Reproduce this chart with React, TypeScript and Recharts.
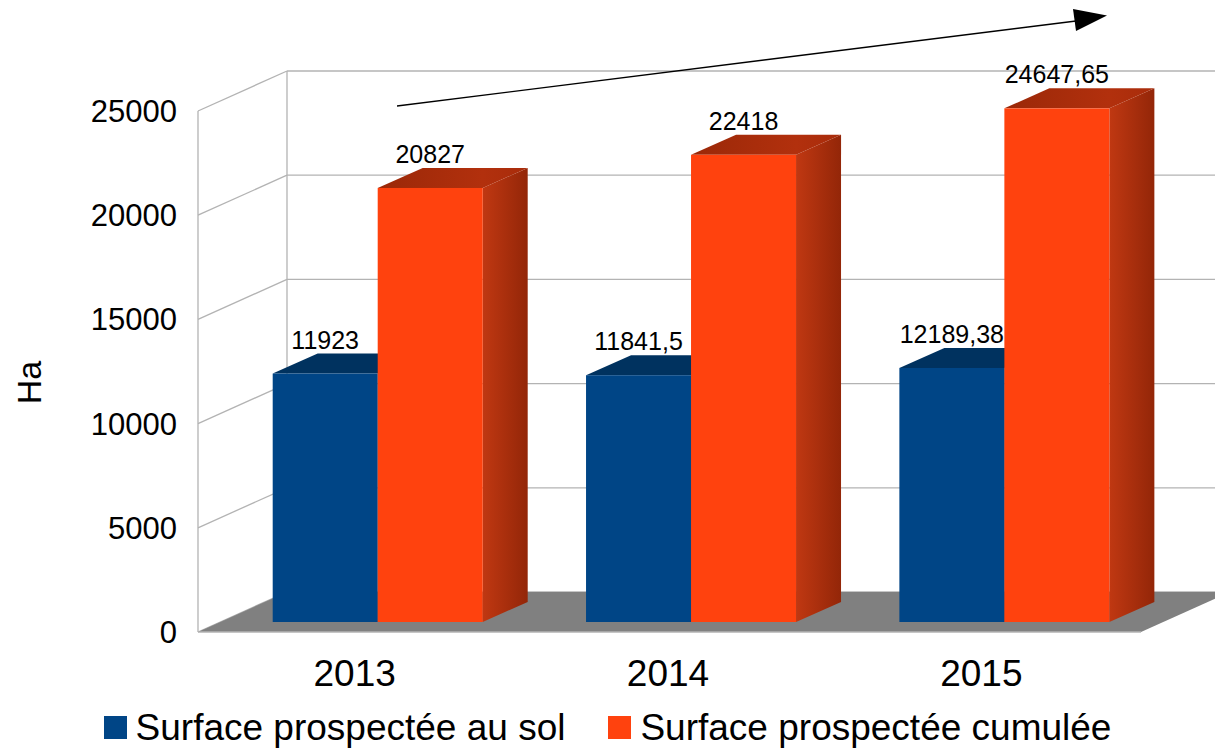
// Surface prospectée — histogramme 3D (Recharts)

import { BarChart, Bar, XAxis, YAxis, CartesianGrid, Legend, LabelList } from "recharts";

const years = ["2013", "2014", "2015"];
const surfaceSol = [11923, 11841.5, 12189.38];
const surfaceCumulee = [20827, 22418, 24647.65];
const yTicks = [0, 5000, 10000, 15000, 20000, 25000];

const NAME_SOL = "Surface prospectée au sol";
const NAME_CUMULEE = "Surface prospectée cumulée";

const data = years.map((year, i) => ({
  year,
  sol: surfaceSol[i],
  cumulee: surfaceCumulee[i],
}));

// géométrie de la perspective
const WALL_DX = 89;
const WALL_DY = 40;
const BAR_DX = 23; // décalage de la face avant des barres (milieu du sol)
const BAR_DY = 10;
const DEPTH_DX = 45; // profondeur des barres
const DEPTH_DY = 20;
const GRID = "#b3b3b3";

const fmt = (v: number) => String(v).replace(".", ",");

function makeBarShape(topFill: string, sideFill: string) {
  return (props: any) => {
    const { x, y, width, height, fill } = props;
    if (width == null || height == null) return <g />;
    const fx = x + BAR_DX;
    const fy = y - BAR_DY;
    const top = `${fx},${fy} ${fx + DEPTH_DX},${fy - DEPTH_DY} ${fx + width + DEPTH_DX},${fy - DEPTH_DY} ${fx + width},${fy}`;
    const side = `${fx + width},${fy} ${fx + width + DEPTH_DX},${fy - DEPTH_DY} ${fx + width + DEPTH_DX},${fy + height - DEPTH_DY} ${fx + width},${fy + height}`;
    return (
      <g>
        <polygon points={side} fill={sideFill} />
        <polygon points={top} fill={topFill} />
        <rect x={fx} y={fy} width={width} height={height} fill={fill} />
      </g>
    );
  };
}

const renderValue = (props: any) => {
  const vb = props.viewBox ?? {};
  const x = props.x ?? vb.x;
  const y = props.y ?? vb.y;
  const width = props.width ?? vb.width;
  return (
    <text
      x={x + width / 2 + BAR_DX}
      y={y - BAR_DY - DEPTH_DY - 5}
      textAnchor="middle"
      fontSize={25}
      fill="#000"
    >
      {fmt(Number(props.value))}
    </text>
  );
};

// murs + sol dessinés à partir des lignes de la grille
const renderGridLine = (props: any) => {
  const { x1, x2, y1, index } = props;
  const top = props.y ?? 111;
  const bottom = top + (props.height ?? 521);
  const isFloor = Math.abs(y1 - bottom) < 1;
  const isTop = Math.abs(y1 - top) < 1;
  return (
    <g key={`grid-${index}`}>
      <line x1={x1} y1={y1} x2={x1 + WALL_DX} y2={y1 - WALL_DY} stroke={GRID} strokeWidth={1.3} />
      <line x1={x1 + WALL_DX} y1={y1 - WALL_DY} x2={x2 + WALL_DX} y2={y1 - WALL_DY} stroke={GRID} strokeWidth={1.3} />
      {isTop && (
        <>
          <line x1={x1} y1={top} x2={x1} y2={bottom} stroke={GRID} strokeWidth={1.3} />
          <line x1={x1 + WALL_DX} y1={top - WALL_DY} x2={x1 + WALL_DX} y2={bottom - WALL_DY} stroke={GRID} strokeWidth={1.3} />
        </>
      )}
      {isFloor && (
        <>
          <polygon
            points={`${x1},${y1} ${x2 + 3},${y1} ${x2 + 3 + WALL_DX},${y1 - WALL_DY} ${x1 + WALL_DX},${y1 - WALL_DY}`}
            fill="#808080"
          />
          <line x1={x1} y1={y1} x2={x2 + 3} y2={y1} stroke={GRID} strokeWidth={1.3} />
        </>
      )}
    </g>
  );
};

const renderYLabel = (props: any) => {
  const vb = props.viewBox ?? { y: 111, height: 521 };
  const cx = 29;
  const cy = vb.y + vb.height / 2 + 11;
  return (
    <text
      x={cx}
      y={cy}
      transform={`rotate(-90, ${cx}, ${cy})`}
      textAnchor="middle"
      dominantBaseline="central"
      fontSize={34}
      fill="#000"
    >
      Ha
    </text>
  );
};

const renderLegend = (props: any) => {
  const payload = props.payload ?? [];
  return (
    <div
      style={{
        height: 52,
        boxSizing: "border-box",
        paddingTop: 18,
        display: "flex",
        justifyContent: "center",
        alignItems: "center",
        fontSize: 37,
        lineHeight: "37px",
        color: "#000",
      }}
    >
      {payload.map((item: any, i: number) => (
        <span key={item.value} style={{ display: "inline-flex", alignItems: "center", marginLeft: i > 0 ? 43 : 0 }}>
          <span style={{ width: 23, height: 23, background: item.color, marginRight: 9, display: "inline-block" }} />
          {item.value}
        </span>
      ))}
    </div>
  );
};

export default function App() {
  return (
    <div
      style={{
        position: "absolute",
        left: 0,
        top: 0,
        width: 1215,
        height: 749,
        background: "#fff",
        fontFamily: '"Liberation Sans", Arial, sans-serif',
      }}
    >
      <BarChart
        width={1215}
        height={749}
        data={data}
        margin={{ top: 111, right: 77, bottom: 5, left: 98 }}
        barGap={0}
        barCategoryGap="16.5%"
      >
        <defs>
          <linearGradient id="sideOrange" x1="0" y1="0" x2="1" y2="0">
            <stop offset="0%" stopColor="#c03812" />
            <stop offset="100%" stopColor="#932608" />
          </linearGradient>
          <linearGradient id="topOrange" x1="0" y1="0" x2="1" y2="0">
            <stop offset="0%" stopColor="#9a2808" />
            <stop offset="70%" stopColor="#b2300d" />
            <stop offset="100%" stopColor="#a82c0b" />
          </linearGradient>
        </defs>
        <CartesianGrid horizontal={renderGridLine} vertical={false} />
        <XAxis
          dataKey="year"
          axisLine={false}
          tickLine={false}
          tickSize={0}
          tickMargin={28}
          height={60}
          tick={{ fontSize: 37, fill: "#000" }}
        />
        <YAxis
          domain={[0, 25000]}
          ticks={yTicks}
          interval={0}
          axisLine={false}
          tickLine={false}
          tickSize={0}
          tickMargin={21}
          width={100}
          tick={{ fontSize: 31, fill: "#000" }}
          label={renderYLabel}
        />
        <Legend
          verticalAlign="bottom"
          height={52}
          content={renderLegend}
          wrapperStyle={{ left: 0, width: 1215, bottom: 5 }}
        />
        <Bar
          dataKey="sol"
          name={NAME_SOL}
          fill="#004586"
          shape={makeBarShape("#00325f", "#003568")}
          isAnimationActive={false}
        >
          <LabelList dataKey="sol" content={renderValue} />
        </Bar>
        <Bar
          dataKey="cumulee"
          name={NAME_CUMULEE}
          fill="#ff420e"
          shape={makeBarShape("url(#topOrange)", "url(#sideOrange)")}
          isAnimationActive={false}
        >
          <LabelList dataKey="cumulee" content={renderValue} />
        </Bar>
      </BarChart>
      <svg
        width={1215}
        height={749}
        style={{ position: "absolute", left: 0, top: 0, pointerEvents: "none" }}
      >
        <line x1={397} y1={106} x2={1076} y2={21} stroke="#000" strokeWidth={1.4} />
        <polygon points="1073,9 1107,15.5 1076,31" fill="#000" />
      </svg>
    </div>
  );
}
